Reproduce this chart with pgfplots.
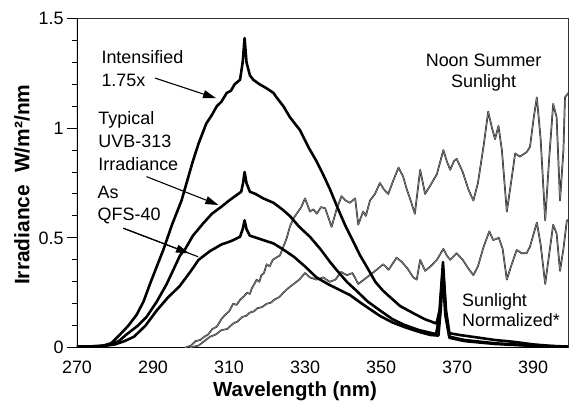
\documentclass[border=0pt]{standalone}
\usepackage{fontspec}
\setmainfont{Liberation Sans}
\usepackage{pgfplots}
\pgfplotsset{compat=1.18}
\usetikzlibrary{arrows.meta}

\begin{document}
\begin{tikzpicture}
\begin{axis}[
  name=ax,
  scale only axis,
  width=491bp, height=329.4bp,
  xmin=270, xmax=399.2, ymin=0, ymax=1.5,
  xtick={270,290,...,390},
  ytick={0,0.5,1,1.5},
  minor ytick={0.1,0.2,0.3,0.4,0.6,0.7,0.8,0.9,1.1,1.2,1.3,1.4},
  tick align=outside,
  tick pos=left,
  xtick style={draw=none},
  major tick length=10bp,
  minor tick length=5bp,
  tick style={line width=1pt,black},
  /pgf/number format/assume math mode=true,
  tick label style={font=\fontsize{18}{20}\selectfont},
  axis line style={line width=1pt, black!80},
  xlabel={Wavelength (nm)},
  ylabel={Irradiance\hspace{12bp}W/m²/nm},
  x label style={font=\bfseries\fontsize{20.5}{22}\selectfont, at={([yshift=-44bp]axis description cs:0.444,0)}, anchor=center},
  y label style={font=\bfseries\fontsize{21}{22}\selectfont, at={([xshift=-55bp]axis description cs:0,0.495)}, anchor=center},
  clip=true,
  sun/.style={draw=black!85, line width=0.5pt, double=black!50, double distance=0.7pt, line join=round},
  lamp/.style={black, line width=2.6pt, line join=round},
]
\draw[line width=2pt] (rel axis cs:0,1) -- (rel axis cs:0,0) -- (rel axis cs:1,0);

% Noon summer sunlight
\addplot[sun] coordinates {
(298.4,0) (300,0.01) (301.2,0.03) (302.4,0.035) (303.5,0.05) (304.5,0.06) (305.6,0.085) (306.8,0.096) (308,0.13) (309,0.15) (310,0.165) (311.1,0.20) (312,0.195) (313,0.22) (314,0.235) (314.7,0.25) (315.5,0.245) (316,0.27) (317.3,0.31) (318,0.30) (318.5,0.33) (319.2,0.34) (319.9,0.38) (320.7,0.37) (321.5,0.40) (322.4,0.41) (323.4,0.42) (324.3,0.46) (325.2,0.50) (326,0.55) (327,0.59) (327.8,0.61) (329,0.64) (330,0.68) (331.3,0.62) (332.2,0.63) (333.1,0.61) (334.2,0.64) (335.3,0.635) (336,0.60) (337,0.55) (338.3,0.63) (339.6,0.69) (340.7,0.67) (341.8,0.66) (343.2,0.68) (344,0.56) (345.3,0.62) (346,0.60) (347.1,0.67) (348.4,0.70) (349.7,0.75) (350.8,0.72) (351.9,0.70) (353.2,0.76) (354.6,0.82) (355.8,0.78) (356.8,0.72) (358,0.66) (358.9,0.61) (360.3,0.81) (361.6,0.70) (363,0.74) (364.7,0.79) (366.4,0.90) (367.3,0.85) (368.2,0.81) (369.2,0.85) (369.9,0.86) (371.5,0.80) (373,0.72) (374.3,0.67) (375.5,0.75) (377,0.92) (378.2,1.075) (379.2,1.00) (380,0.95) (380.9,1.01) (381.8,0.90) (383.1,0.62) (384.2,0.75) (385.3,0.885) (386.5,0.87) (388.3,0.89) (389.2,0.915) (390.2,1.05) (391,1.14) (392,0.95) (393.2,0.58) (394.2,0.85) (395.3,1.11) (396.2,1.05) (397.1,0.67) (398,0.90) (398.4,1.14) (399.3,1.16)
};
% Sunlight normalized
\addplot[sun] coordinates {
(299.7,0) (302,0.01) (303.5,0.03) (305,0.05) (306.5,0.06) (308,0.08) (309.5,0.085) (311.1,0.11) (312.3,0.12) (313.5,0.14) (314.5,0.145) (315.5,0.16) (316.5,0.165) (317.5,0.18) (318.7,0.185) (319.9,0.20) (321,0.205) (322,0.22) (323.2,0.23) (324.3,0.25) (325.5,0.27) (327,0.29) (328.5,0.31) (330,0.34) (331.3,0.32) (333,0.31) (334.8,0.32) (336.5,0.30) (338,0.31) (339.5,0.345) (341,0.33) (342.5,0.34) (344,0.29) (345.5,0.31) (347,0.33) (348.5,0.35) (350.6,0.38) (352,0.355) (354.1,0.41) (355.5,0.39) (357,0.36) (358.5,0.32) (359.4,0.31) (360.3,0.40) (361.6,0.35) (363,0.37) (364.7,0.40) (366.4,0.45) (367.3,0.42) (368.2,0.40) (369.9,0.43) (371.5,0.40) (373,0.36) (374.3,0.33) (375.5,0.37) (377,0.46) (378.5,0.53) (379.5,0.49) (381,0.50) (382,0.45) (383.1,0.31) (384.2,0.37) (385.7,0.445) (387,0.43) (388.3,0.43) (389.2,0.46) (391,0.57) (392,0.47) (393.2,0.29) (394.2,0.42) (395.3,0.56) (396.2,0.52) (397.1,0.35) (398,0.45) (398.9,0.58) (399.3,0.58)
};
% Intensified 1.75x
\addplot[lamp] coordinates {
(270,0.006) (274,0.006) (277,0.01) (279,0.02) (281.3,0.06) (283.5,0.1) (285.7,0.15) (287.5,0.21) (289.2,0.29) (291,0.37) (292.7,0.445) (295,0.56) (297.5,0.67) (299,0.76) (300.5,0.85) (302,0.93) (304,1.02) (305.5,1.06) (306.8,1.10) (308,1.12) (309.4,1.16) (310.5,1.17) (311.5,1.2) (312.9,1.22) (313.6,1.3) (314.1,1.41) (314.6,1.3) (315.5,1.24) (316.4,1.22) (318,1.2) (320,1.18) (321.7,1.16) (322.5,1.14) (324.3,1.10) (326,1.05) (328.7,0.99) (331,0.91) (333,0.85) (335,0.78) (336.6,0.72) (338.5,0.64) (340.5,0.56) (342.5,0.49) (344.5,0.42) (346.2,0.37) (348.5,0.30) (350.5,0.26) (352.4,0.23) (355,0.19) (358.5,0.157) (361.5,0.13) (364.6,0.11) (365.4,0.17) (366.3,0.39) (367.1,0.17) (368,0.066) (371,0.057) (376,0.045) (380,0.035) (384.8,0.027) (390,0.015) (395,0.008) (399.2,0.005)
};
% Typical UVB-313
\addplot[lamp] coordinates {
(270,0.005) (276,0.006) (279,0.015) (281,0.03) (283,0.06) (286,0.1) (288.3,0.14) (291,0.21) (293.6,0.29) (295.5,0.36) (297.1,0.42) (298.5,0.45) (300.5,0.51) (303.2,0.566) (305.5,0.61) (308,0.642) (310,0.67) (312,0.695) (313.2,0.71) (313.7,0.75) (314.1,0.80) (314.6,0.75) (315.5,0.71) (317,0.70) (319,0.68) (321.7,0.66) (324,0.63) (326,0.60) (328.5,0.55) (331.3,0.505) (334,0.45) (336.6,0.39) (338.5,0.35) (341,0.30) (343.5,0.26) (346.5,0.21) (349.7,0.17) (353,0.13) (356,0.105) (360,0.08) (364.5,0.062) (365.4,0.15) (366.3,0.36) (367.1,0.15) (368,0.05) (372,0.035) (380,0.02) (390,0.01) (399.2,0.004)
};
% QFS-40
\addplot[lamp] coordinates {
(270,0.004) (277,0.008) (280,0.015) (282.5,0.03) (285,0.05) (288,0.1) (291,0.17) (294,0.23) (297,0.28) (300,0.35) (302,0.40) (305,0.44) (308,0.47) (310.5,0.485) (312.9,0.505) (313.6,0.54) (314.1,0.58) (314.6,0.54) (315.5,0.51) (316.4,0.505) (319,0.49) (321.7,0.475) (324,0.45) (327,0.415) (330,0.37) (333,0.32) (336,0.29) (338.3,0.27) (341.8,0.24) (345,0.20) (349.7,0.145) (353,0.115) (356,0.095) (360,0.072) (363,0.058) (365.1,0.055) (365.7,0.17) (366.3,0.33) (366.9,0.15) (368,0.045) (372,0.03) (380,0.017) (390,0.008) (399.2,0.004)
};

% annotations
\node[anchor=west, align=left, inner sep=0pt, font=\fontsize{18}{23}\selectfont] at (axis cs:276.4,1.27) {Intensified\\1.75x};
\node[anchor=west, align=left, inner sep=0pt, font=\fontsize{18}{22.7}\selectfont] at (axis cs:275.6,0.941) {Typical\\UVB-313\\Irradiance};
\node[anchor=west, align=left, inner sep=0pt, font=\fontsize{18}{22}\selectfont] at (axis cs:275.4,0.65) {As\\QFS-40};
\node[anchor=center, align=center, inner sep=0pt, font=\fontsize{18}{21}\selectfont] at (axis cs:377,1.253) {Noon Summer\\Sunlight};
\node[anchor=west, align=left, inner sep=0pt, font=\fontsize{18}{20}\selectfont] at (axis cs:371.3,0.172) {Sunlight\\Normalized*};

\draw[line width=1.1pt, -{Triangle[length=13bp,width=8bp]}] (axis cs:290.5,1.228) -- (axis cs:306.6,1.136);
\draw[line width=1.1pt, -{Triangle[length=13bp,width=8bp]}] (axis cs:288.3,0.779) -- (axis cs:307.2,0.65);
\draw[line width=1.1pt] (axis cs:282.2,0.544) -- (axis cs:301.9,0.414);
\draw[line width=1.1pt, -{Triangle[length=13bp,width=8bp]}] (axis cs:282.2,0.544) -- (axis cs:299.5,0.43);
\end{axis}
\pgfresetboundingbox
\path[use as bounding box] ([xshift=-77bp,yshift=-56.3bp]ax.south west) rectangle ([xshift=2bp,yshift=18.3bp]ax.north east);
\end{tikzpicture}
\end{document}
